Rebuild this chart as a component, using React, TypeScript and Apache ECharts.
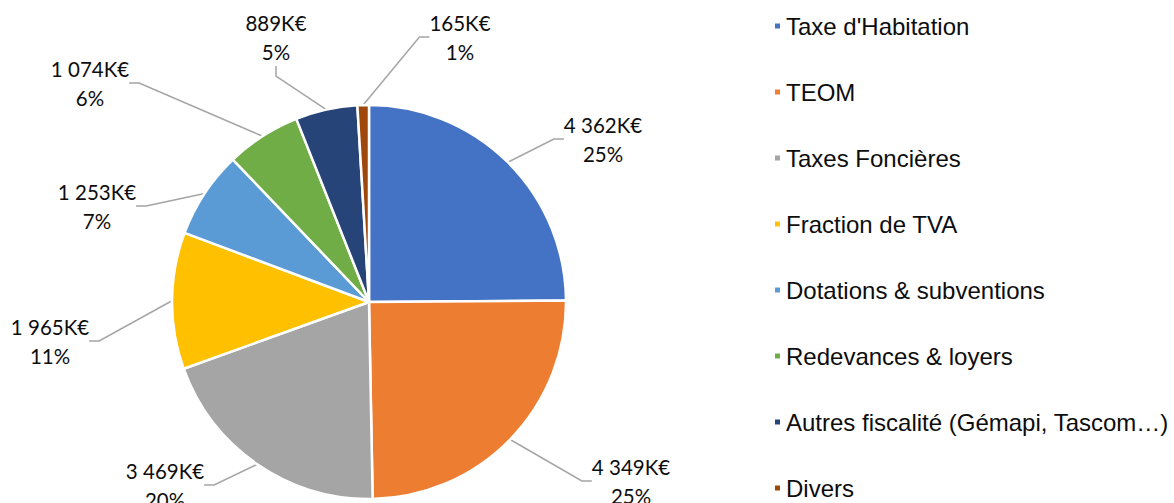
import React, { useEffect, useRef } from "react";
import * as echarts from "echarts";

const categories = [
  "Taxe d'Habitation",
  "TEOM",
  "Taxes Foncières",
  "Fraction de TVA",
  "Dotations & subventions",
  "Redevances & loyers",
  "Autres fiscalité (Gémapi, Tascom…)",
  "Divers",
];
const valuesK = [4362, 4349, 3469, 1965, 1253, 1074, 889, 165];
const colors = ["#4472C4", "#ED7D31", "#A5A5A5", "#FFC000", "#5B9BD5", "#70AD47", "#264478", "#9E480E"];

// label block centres (layout only)
const labelCentres: [number, number][] = [
  [603, 139],
  [631, 481],
  [165, 485],
  [50, 341],
  [97, 206],
  [90, 83],
  [276, 37],
  [460, 37],
];

function fmt(v: number) {
  return String(v).replace(/\B(?=(\d{3})+(?!\d))/g, " ");
}

export default function App() {
  const ref = useRef<HTMLDivElement>(null);
  useEffect(() => {
    const chart = echarts.init(ref.current!, null, { renderer: "svg" });
    chart.setOption({
      animation: false,
      backgroundColor: "#ffffff",
      color: colors,
      legend: {
        orient: "vertical",
        left: 768,
        top: 9,
        height: 520,
        icon: "rect",
        itemWidth: 7,
        itemHeight: 7,
        itemGap: 42,
        textStyle: {
          fontFamily: "'Liberation Sans', Arial, sans-serif",
          fontSize: 24,
          lineHeight: 24,
          color: "#0d0d0d",
          padding: [0, 0, 0, 0],
        },
        data: categories,
      },
      series: [
        {
          type: "pie",
          center: [369, 302],
          radius: 197,
          startAngle: 90,
          clockwise: true,
          percentPrecision: 0,
          itemStyle: { borderColor: "#ffffff", borderWidth: 2.5 },
          label: {
            show: true,
            position: "outside",
            fontFamily: "Lato, Carlito, Calibri, sans-serif",
            fontSize: 20.5,
            lineHeight: 29,
            color: "#0d0d0d",
            align: "center",
            formatter: (p: any) => `${fmt(p.value)}K€\n${p.percent}%`,
          },
          labelLine: {
            show: true,
            length: 15,
            length2: 10,
            lineStyle: { color: "#A5A5A5", width: 1.5 },
          },
          labelLayout: (p: any) => {
            const c = labelCentres[p.dataIndex];
            return { x: c[0], y: c[1], align: "center", verticalAlign: "middle" };
          },
          data: categories.map((n, i) => ({ name: n, value: valuesK[i] })),
        },
      ],
    });
    return () => chart.dispose();
  }, []);
  return (
    <div
      ref={ref}
      style={{ position: "fixed", left: 0, top: 0, width: 1174, height: 503 }}
    />
  );
}
